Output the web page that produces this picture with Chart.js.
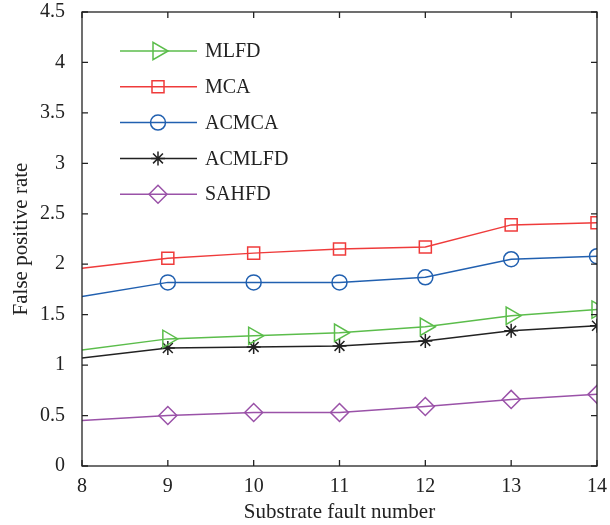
<!DOCTYPE html>
<html>
<head>
<meta charset="utf-8">
<script src="https://cdn.jsdelivr.net/npm/chart.js@4/dist/chart.umd.min.js"></script>
<style>
  html, body { margin: 0; padding: 0; background: #fff; }
  #wrap { width: 610px; height: 525px; }
</style>
</head>
<body>
<div id="wrap"><canvas id="chart" width="610" height="525"></canvas></div>
<script>
// data
const faults = [8, 9, 10, 11, 12, 13, 14];
const mlfd   = [1.15, 1.26, 1.29, 1.32, 1.38, 1.49, 1.55];
const mca    = [1.96, 2.06, 2.11, 2.15, 2.17, 2.39, 2.41];
const acmca  = [1.68, 1.82, 1.82, 1.82, 1.87, 2.05, 2.08];
const acmlfd = [1.07, 1.17, 1.18, 1.19, 1.24, 1.34, 1.39];
const sahfd  = [0.45, 0.50, 0.53, 0.53, 0.59, 0.66, 0.71];
const yTicks = [0, 0.5, 1, 1.5, 2, 2.5, 3, 3.5, 4, 4.5];
const yLabels = ['0', '0.5', '1', '1.5', '2', '2.5', '3', '3.5', '4', '4.5'];

const serif = "'Liberation Serif', 'DejaVu Serif', serif";
const ink = '#222';

function pts(vals) {
    return vals.map((v, i) => ({ x: faults[i], y: v }));
}
// no marker on the first point (x = 8)
function radii(r) {
    return faults.map((f, i) => i === 0 ? 0 : r);
}

function series(label, vals, color, style, r, rot) {
    return {
        label: label,
        data: pts(vals),
        borderColor: color,
        backgroundColor: 'rgba(0,0,0,0)',
        borderWidth: 1.5,
        pointStyle: style,
        pointRadius: radii(r),
        pointRotation: rot || 0,
        pointBorderWidth: 1.5,
        pointBorderColor: color,
        pointBackgroundColor: 'rgba(0,0,0,0)',
        tension: 0
    };
}

// box + inward ticks on all four sides, MATLAB style
const boxPlugin = {
    id: 'boxPlugin',
    afterDraw(chart) {
        const ctx = chart.ctx, a = chart.chartArea;
        const xs = chart.scales.x, ys = chart.scales.y;
        const len = 6;
        ctx.save();
        ctx.strokeStyle = ink;
        ctx.lineWidth = 1.3;
        ctx.strokeRect(a.left, a.top, a.right - a.left, a.bottom - a.top);
        ctx.beginPath();
        xs.ticks.forEach(t => {
            const px = xs.getPixelForValue(t.value);
            ctx.moveTo(px, a.bottom); ctx.lineTo(px, a.bottom - len);
            ctx.moveTo(px, a.top); ctx.lineTo(px, a.top + len);
        });
        ys.ticks.forEach(t => {
            const py = ys.getPixelForValue(t.value);
            ctx.moveTo(a.left, py); ctx.lineTo(a.left + len, py);
            ctx.moveTo(a.right, py); ctx.lineTo(a.right - len, py);
        });
        ctx.stroke();
        ctx.restore();
    }
};

// legend with line + marker, drawn inside the plot
const legendPlugin = {
    id: 'lineLegend',
    afterDraw(chart) {
        const ctx = chart.ctx;
        const x0 = 120, x1 = 197, xm = 158, xt = 205;
        let y = 51;
        ctx.save();
        ctx.font = '20px ' + serif;
        ctx.textBaseline = 'middle';
        ctx.textAlign = 'left';
        chart.data.datasets.forEach(ds => {
            ctx.strokeStyle = ds.borderColor;
            ctx.lineWidth = 1.5;
            ctx.fillStyle = '#fff';
            Chart.helpers.drawPoint(ctx, {
                pointStyle: ds.pointStyle,
                radius: ds.pointRadius[1],
                rotation: ds.pointRotation,
                borderWidth: 1.5
            }, xm, y);
            ctx.beginPath();
            ctx.moveTo(x0, y); ctx.lineTo(x1, y);
            ctx.stroke();
            ctx.fillStyle = ink;
            ctx.fillText(ds.label, xt, y + 1);
            y += 35.8;
        });
        ctx.restore();
    }
};

new Chart(document.getElementById('chart').getContext('2d'), {
    type: 'line',
    data: {
        datasets: [
            series('MLFD', mlfd, '#5bbd4b', 'triangle', 10, 90),
            series('MCA', mca, '#ef3b3b', 'rect', 8.5),
            series('ACMCA', acmca, '#2160b0', 'circle', 7.5),
            series('ACMLFD', acmlfd, '#222222', 'star', 7),
            series('SAHFD', sahfd, '#9a52a8', 'rectRot', 9)
        ]
    },
    options: {
        responsive: false,
        animation: false,
        layout: { padding: { top: 12, right: 13, left: 0, bottom: 0 } },
        plugins: { legend: { display: false }, tooltip: { enabled: false } },
        scales: {
            x: {
                type: 'linear',
                min: 8, max: 14,
                grid: { display: false },
                border: { display: false },
                ticks: { stepSize: 1, color: ink, font: { family: serif, size: 20 }, padding: 1 },
                title: { display: true, text: 'Substrate fault number', color: ink,
                         font: { family: serif, size: 21 }, padding: { top: 0, bottom: 0 } },
                afterFit: s => { s.height = 59; s.paddingLeft = 0; s.paddingRight = 0; }
            },
            y: {
                min: 0, max: 4.5,
                afterBuildTicks: s => { s.ticks = yTicks.map(v => ({ value: v })); },
                grid: { display: false },
                border: { display: false },
                ticks: { color: ink, font: { family: serif, size: 20 }, padding: 9,
                         callback: (v, i) => yLabels[i] },
                title: { display: true, text: 'False positive rate', color: ink,
                         font: { family: serif, size: 21 }, padding: { top: 9, bottom: 2 } },
                afterFit: s => { s.width = 82; s.paddingTop = 0; s.paddingBottom = 0; }
            }
        }
    },
    plugins: [boxPlugin, legendPlugin]
});
</script>
</body>
</html>
